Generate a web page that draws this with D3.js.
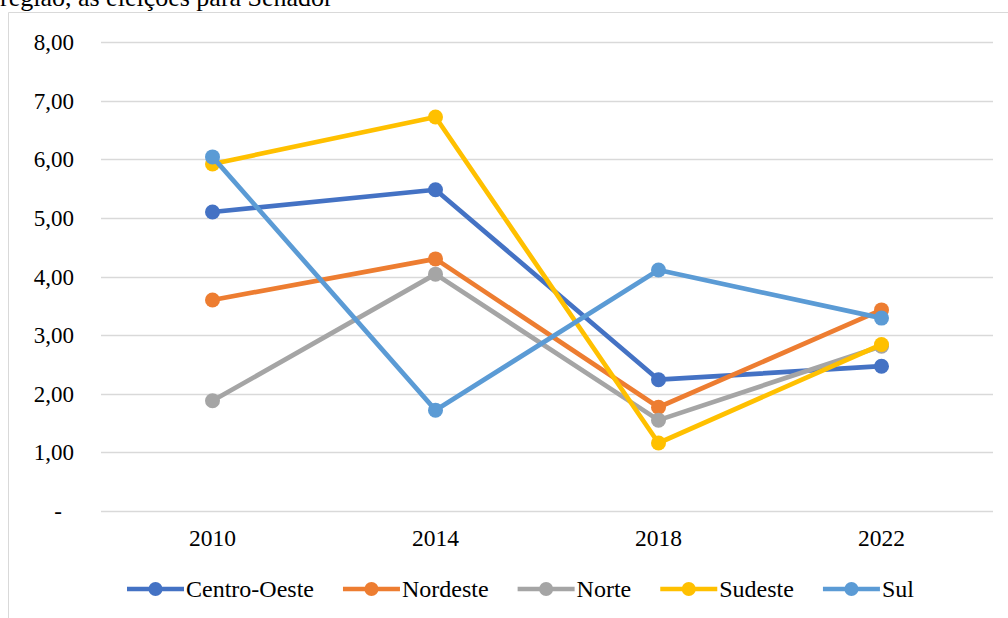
<!DOCTYPE html>
<html>
<head>
<meta charset="utf-8">
<script src="https://cdn.jsdelivr.net/npm/d3@7"></script>
<style>
  body { margin: 0; background: #fff; }
  svg { display: block; font-family: "Liberation Serif", "Times New Roman", serif; }
</style>
</head>
<body>
<svg id="chart" width="1008" height="618"></svg>
<script>
var years = ["2010", "2014", "2018", "2022"];
var regions = ["Centro-Oeste", "Nordeste", "Norte", "Sudeste", "Sul"];
var centroOeste = [5.10, 5.48, 2.24, 2.47];
var nordeste = [3.60, 4.30, 1.77, 3.43];
var norte = [1.88, 4.04, 1.55, 2.81];
var sudeste = [5.92, 6.72, 1.16, 2.84];
var sul = [6.04, 1.72, 4.11, 3.29];
var yTicks = [0, 1, 2, 3, 4, 5, 6, 7, 8];

var seriesValues = [centroOeste, nordeste, norte, sudeste, sul];
var colors = d3.scaleOrdinal()
    .domain(regions)
    .range(["#4472C4", "#ED7D31", "#A5A5A5", "#FFC000", "#5B9BD5"]);

var svg = d3.select("#chart");

// title partly cut off at the top, as in the source
svg.append("text")
    .attr("x", 0)
    .attr("y", 6)
    .attr("font-size", 26)
    .attr("fill", "#000")
    .text("região, as eleições para Senador");

// chart area border
svg.append("path")
    .attr("d", "M8.5,618V12.5H1008")
    .attr("fill", "none")
    .attr("stroke", "#d9d9d9")
    .attr("stroke-width", 1);

var x = d3.scalePoint()
    .domain(years)
    .range([101, 993])
    .padding(0.5);

var y = d3.scaleLinear()
    .domain([0, 8])
    .range([511, 42]);

// gridlines
svg.append("g")
    .selectAll("line")
    .data(yTicks)
    .enter().append("line")
    .attr("x1", 101)
    .attr("x2", 993)
    .attr("y1", function (d) { return Math.round(y(d)) + 0.5; })
    .attr("y2", function (d) { return Math.round(y(d)) + 0.5; })
    .attr("stroke", "#d9d9d9")
    .attr("stroke-width", 1.5);

// y axis labels
svg.append("g")
    .selectAll("text")
    .data(yTicks)
    .enter().append("text")
    .attr("x", function (d) { return d === 0 ? 62 : 74; })
    .attr("y", function (d) { return y(d); })
    .attr("dy", "0.35em")
    .attr("text-anchor", "end")
    .attr("font-size", 23)
    .attr("fill", "#000")
    .text(function (d) { return d === 0 ? "-" : d.toFixed(2).replace(".", ","); });

// x axis labels
svg.append("g")
    .selectAll("text")
    .data(years)
    .enter().append("text")
    .attr("x", function (d) { return x(d); })
    .attr("y", 546)
    .attr("text-anchor", "middle")
    .attr("font-size", 23.5)
    .attr("fill", "#000")
    .text(function (d) { return d; });

var line = d3.line()
    .x(function (d, i) { return x(years[i]); })
    .y(function (d) { return y(d); });

var series = svg.append("g")
    .selectAll("g")
    .data(regions)
    .enter().append("g")
    .attr("fill", function (d) { return colors(d); })
    .attr("stroke", function (d) { return colors(d); });

series.append("path")
    .attr("d", function (d, i) { return line(seriesValues[i]); })
    .attr("fill", "none")
    .attr("stroke-width", 4.7)
    .attr("stroke-linejoin", "round");

series.selectAll("circle")
    .data(function (d, i) { return seriesValues[i]; })
    .enter().append("circle")
    .attr("cx", function (d, i) { return x(years[i]); })
    .attr("cy", function (d) { return y(d); })
    .attr("r", 7.5)
    .attr("stroke", "none");

// legend, laid out left to right from the measured text widths
var legend = svg.append("g").attr("transform", "translate(0,589)");
var cursor = 127;
regions.forEach(function (r) {
    var tag = legend.append("g").attr("transform", "translate(" + cursor + ",0)");
    tag.append("line")
        .attr("x1", 0)
        .attr("x2", 57)
        .attr("stroke", colors(r))
        .attr("stroke-width", 4.7);
    tag.append("circle")
        .attr("cx", 28.5)
        .attr("r", 7)
        .attr("fill", colors(r));
    var t = tag.append("text")
        .attr("x", 59)
        .attr("dy", "0.35em")
        .attr("font-size", 24)
        .attr("fill", "#000")
        .text(r);
    cursor += 59 + t.node().getComputedTextLength() + 29;
});
</script>
</body>
</html>
